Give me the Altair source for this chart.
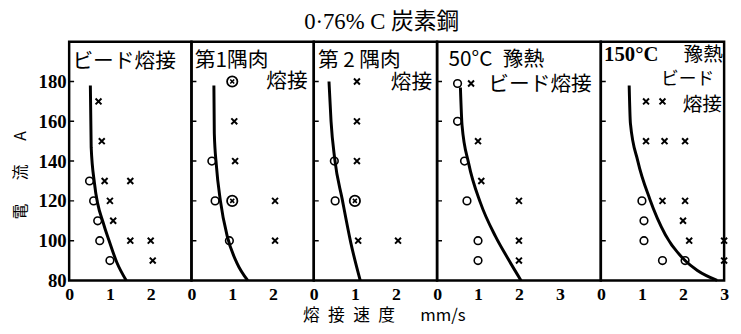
import altair as alt
import pandas as pd

FONT = "'Liberation Serif', 'Noto Sans CJK JP', serif"
JFONT = "'Noto Sans CJK JP', 'Liberation Serif', sans-serif"

Y_TICKS = [80, 100, 120, 140, 160, 180]
Y_INNER_TICKS = [100, 120, 140, 160, 180]

# ---------------- Panel 1: ビード熔接 ----------------
p1_circle_x = [0.5, 0.6, 0.7, 0.75, 1.0]
p1_circle_y = [130, 120, 110, 100, 90]
p1_cross_x = [0.72, 0.8, 0.87, 1.5, 1.0, 1.08, 1.5, 2.0, 2.05]
p1_cross_y = [170, 150, 130, 130, 120, 110, 100, 100, 90]
p1_otimes_x = []
p1_otimes_y = []
p1_curve_x = [0.52, 0.54, 0.62, 0.85, 0.98, 1.17, 1.4]
p1_curve_y = [178, 147, 129, 108, 100, 89, 80]

# ---------------- Panel 2: 第1隅肉熔接 ----------------
p2_circle_x = [0.5, 0.58, 0.93]
p2_circle_y = [140, 120, 100]
p2_cross_x = [1.05, 1.07, 2.05, 2.05]
p2_cross_y = [160, 140, 120, 100]
p2_otimes_x = [1.0, 1.0]
p2_otimes_y = [180, 120]
p2_curve_x = [0.55, 0.56, 0.61, 0.71, 0.88, 1.11, 1.38]
p2_curve_y = [178, 154, 138, 120, 102, 89, 80]

# ---------------- Panel 3: 第2隅肉熔接 ----------------
p3_circle_x = [0.5, 0.52]
p3_circle_y = [140, 120]
p3_cross_x = [1.05, 1.05, 1.05, 1.08, 2.05]
p3_cross_y = [180, 160, 140, 100, 100]
p3_otimes_x = [1.0]
p3_otimes_y = [120]
p3_curve_x = [0.37, 0.42, 0.51, 0.69, 0.9, 1.13]
p3_curve_y = [180, 160, 141, 121, 99, 80]

# ---------------- Panel 4: 50°C 豫熱 ビード熔接 ----------------
p4_circle_x = [0.5, 0.5, 0.67, 0.73, 1.0, 1.0]
p4_circle_y = [179, 160, 140, 120, 100, 90]
p4_cross_x = [0.83, 1.0, 1.08, 2.0, 2.0, 2.0]
p4_cross_y = [179, 150, 130, 120, 100, 90]
p4_otimes_x = []
p4_otimes_y = []
p4_curve_x = [0.57, 0.61, 0.77, 1.06, 1.43, 1.73, 2.05]
p4_curve_y = [177, 158, 139, 119, 102, 91, 80]

# ---------------- Panel 5: 150°C 豫熱 ビード熔接 ----------------
p5_circle_x = [1.0, 1.05, 1.05, 1.5, 2.05]
p5_circle_y = [120, 110, 100, 90, 90]
p5_cross_x = [1.1, 1.5, 1.1, 1.55, 2.05, 1.5, 2.05, 2.0, 2.15, 3.0, 3.0]
p5_cross_y = [170, 170, 150, 150, 150, 120, 120, 110, 100, 100, 90]
p5_otimes_x = []
p5_otimes_y = []
p5_curve_x = [0.69, 0.72, 0.9, 1.19, 1.57, 2.05, 2.35, 2.83]
p5_curve_y = [178, 159, 140, 121, 103, 90, 85, 80]

# panel labels: (text, x, y, align, font, size, weight)
p1_labels = [("ビード熔接", 0.08, 190, "left", "j", 21, "normal")]
p2_labels = [("第1隅肉", 0.08, 190.5, "left", "j", 21, "normal"),
             ("熔接", 2.85, 179.5, "right", "j", 21, "normal")]
p3_labels = [("第 2 隅肉", 0.1, 190.5, "left", "j", 21, "normal"),
             ("熔接", 2.88, 179, "right", "j", 21, "normal")]
p4_labels = [("50°C\u2002豫熱", 0.28, 191, "left", "j", 21, "normal"),
             ("ビード熔接", 3.78, 178, "right", "j", 21, "normal")]
p5_labels = [("150°C", 0.08, 193.5, "left", "s", 21, "bold"),
             ("豫熱", 2.97, 193.5, "right", "j", 20, "normal"),
             ("ビード", 2.76, 180.5, "right", "j", 18, "normal"),
             ("熔接", 2.95, 168, "right", "j", 20, "normal")]

X_MAX = [3, 3, 3, 4, 3]
X_TICKS = [[0, 1, 2], [0, 1, 2], [0, 1, 2], [0, 1, 2, 3], [0, 1, 2, 3]]
WIDTHS = [124, 124, 125, 166, 125]
HEIGHT = 242

CROSS = "M-1,-1L1,1M1,-1L-1,1"
X_TITLE = "熔\u2002接\u2002速\u2002度\u3000\u2002mm/s"


def panel(i, cx, cy, xx, xy, ox, oy, kx, ky, labels):
    xs = alt.Scale(domain=[0, X_MAX[i]], nice=False, zero=False)
    ys = alt.Scale(domain=[80, 200], nice=False, zero=False)
    xtitle = X_TITLE if i == 2 else None
    xaxis = alt.Axis(values=X_TICKS[i], format="d", ticks=False, domain=False, grid=False,
                     labelFontSize=18, labelFont=FONT, labelFontWeight="bold", labelColor="black",
                     labelPadding=5, labelFlush=False,
                     titleFont=JFONT, titleFontSize=17, titleFontWeight="normal", titleColor="black",
                     titlePadding=5, titleX=71, titleAlign="center")
    if i == 0:
        yaxis = alt.Axis(values=Y_TICKS, ticks=False, domain=False, grid=False,
                         labelFontSize=19, labelFont=FONT, labelFontWeight="bold", labelColor="black",
                         labelPadding=3, labelFlush=False,
                         title="電\u3000\u2002流\u3000\u2002A", titleFont=JFONT, titleFontSize=16,
                         titleFontWeight="normal", titleColor="black", titlePadding=10,
                         titleY=135, titleAlign="center")
        yenc = alt.Y("a:Q", scale=ys, axis=yaxis)
    else:
        yenc = alt.Y("a:Q", scale=ys, axis=None)
    xenc = alt.X("v:Q", scale=xs, axis=xaxis, title=xtitle)

    layers = []
    curve = pd.DataFrame({"v": kx, "a": ky})
    layers.append(alt.Chart(curve).mark_line(color="black", strokeWidth=3, interpolate="monotone")
                  .encode(x=xenc, y=yenc, order="v:Q"))
    if cx:
        layers.append(alt.Chart(pd.DataFrame({"v": cx, "a": cy})).mark_point(
            shape="circle", filled=False, color="black", strokeWidth=1.6, size=60, opacity=1)
            .encode(x=xenc, y=yenc))
    if xx:
        layers.append(alt.Chart(pd.DataFrame({"v": xx, "a": xy})).mark_point(
            shape=CROSS, filled=False, color="black", strokeWidth=2, size=36, opacity=1)
            .encode(x=xenc, y=yenc))
    if ox:
        od = pd.DataFrame({"v": ox, "a": oy})
        layers.append(alt.Chart(od).mark_point(
            shape="circle", filled=False, color="black", strokeWidth=1.8, size=110, opacity=1)
            .encode(x=xenc, y=yenc))
        layers.append(alt.Chart(od).mark_point(
            shape=CROSS, filled=False, color="black", strokeWidth=1.6, size=16, opacity=1)
            .encode(x=xenc, y=yenc))
    tick_df = pd.DataFrame({"v": [0] * len(Y_INNER_TICKS), "a": Y_INNER_TICKS})
    layers.append(alt.Chart(tick_df).mark_tick(orient="horizontal", size=10, thickness=1.5,
                                               color="black", clip=True, opacity=1)
                  .encode(x=xenc, y=yenc))
    for (t, lx, ly, al, fk, fs, fw) in labels:
        layers.append(alt.Chart(pd.DataFrame({"v": [lx], "a": [ly], "t": [t]})).mark_text(
            align=al, baseline="middle", font=(JFONT if fk == "j" else FONT), fontSize=fs,
            fontWeight=fw, color="black")
            .encode(x=xenc, y=yenc, text="t:N"))
    return alt.layer(*layers).properties(width=WIDTHS[i], height=HEIGHT)


panels = [
    panel(0, p1_circle_x, p1_circle_y, p1_cross_x, p1_cross_y, p1_otimes_x, p1_otimes_y, p1_curve_x, p1_curve_y, p1_labels),
    panel(1, p2_circle_x, p2_circle_y, p2_cross_x, p2_cross_y, p2_otimes_x, p2_otimes_y, p2_curve_x, p2_curve_y, p2_labels),
    panel(2, p3_circle_x, p3_circle_y, p3_cross_x, p3_cross_y, p3_otimes_x, p3_otimes_y, p3_curve_x, p3_curve_y, p3_labels),
    panel(3, p4_circle_x, p4_circle_y, p4_cross_x, p4_cross_y, p4_otimes_x, p4_otimes_y, p4_curve_x, p4_curve_y, p4_labels),
    panel(4, p5_circle_x, p5_circle_y, p5_cross_x, p5_cross_y, p5_otimes_x, p5_otimes_y, p5_curve_x, p5_curve_y, p5_labels),
]

chart = alt.hconcat(*panels, spacing=0, bounds="flush").properties(
    title=alt.TitleParams("0·76% C 炭素鋼", font=FONT, fontSize=23, fontWeight="normal",
                          color="black", anchor="middle", offset=7, dx=10),
    padding={"left": 3, "top": 0, "right": 0, "bottom": 0},
    background="white",
).configure_view(stroke="black", strokeWidth=2.5)

chart.save("out.html", embed_options={"renderer": "svg", "actions": False})
